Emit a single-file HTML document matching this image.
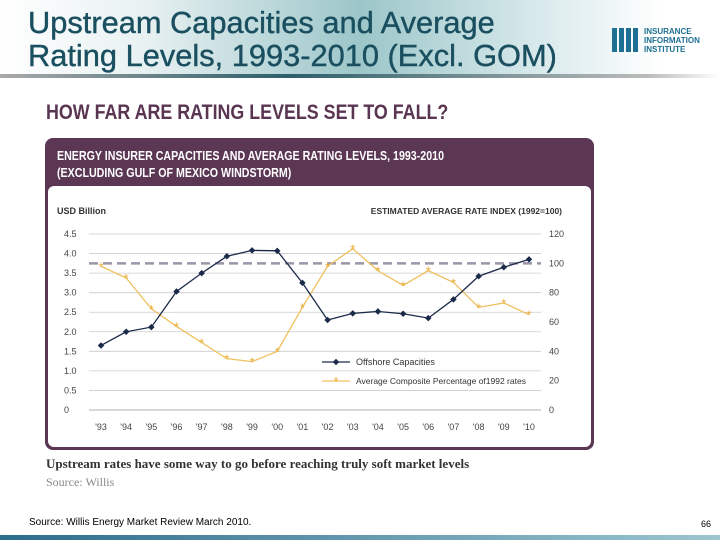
<!DOCTYPE html>
<html><head><meta charset="utf-8"><style>
body{margin:0;width:720px;height:540px;overflow:hidden;background:#fff;font-family:"Liberation Sans",sans-serif;position:relative}
.a{position:absolute}
</style></head><body>
<div class="a" style="left:0;top:0;width:720px;height:76px;background:linear-gradient(90deg,#fff 0%,#e8f1f2 20%,#9cc6c9 50%,#d9eaec 75%,#fff 92%)"></div>
<div class="a" style="left:0;top:74px;width:720px;height:4px;background:linear-gradient(90deg,#aaa,#2c5f6a 40%,#bbb 90%,#fff)"></div>
<div class="a" style="left:28px;top:6px;font-size:30.8px;line-height:33px;color:#1a4f60;-webkit-text-stroke:0.4px #1a4f60">Upstream Capacities and Average<br>Rating Levels, 1993-2010 (Excl. GOM)</div>
<div class="a" style="left:612px;top:28px;width:28px;height:24px;background:repeating-linear-gradient(90deg,#1d6f93 0 5px,transparent 5px 7px)"></div>
<div class="a" style="left:644px;top:27px;font-size:8px;line-height:9px;font-weight:bold;color:#1d6f93">INSURANCE<br>INFORMATION<br>INSTITUTE</div>
<div class="a" style="left:46px;top:101px;font-size:21px;font-weight:bold;color:#5a3552;transform:scaleX(0.85);transform-origin:left">HOW FAR ARE RATING LEVELS SET TO FALL?</div>
<div class="a" style="left:45px;top:138px;width:549px;height:312px;background:#5b3754;border-radius:8px"></div>
<div class="a" style="left:48px;top:186px;width:543px;height:261px;background:#fff;border-radius:6px"></div>
<div class="a" style="left:57px;top:147px;font-size:13px;line-height:17px;font-weight:bold;color:#fff;transform:scaleX(0.82);transform-origin:left">ENERGY INSURER CAPACITIES AND AVERAGE RATING LEVELS, 1993-2010<br>(EXCLUDING GULF OF MEXICO WINDSTORM)</div>
<svg class="a" style="left:0;top:0" width="720" height="540" id="chart"></svg>
<div class="a" style="left:46px;top:456px;font-family:'Liberation Serif',serif;font-weight:bold;font-size:13px;color:#333">Upstream rates have some way to go before reaching truly soft market levels</div>
<div class="a" style="left:46px;top:475px;font-family:'Liberation Serif',serif;font-size:12px;color:#888">Source: Willis</div>
<div class="a" style="left:29px;top:517px;font-size:10px;color:#000">Source: Willis Energy Market Review March 2010.</div>
<div class="a" style="left:701px;top:519px;font-size:9px;color:#000">66</div>
<div class="a" style="left:0;top:535px;width:720px;height:5px;background:linear-gradient(90deg,#2c6c8c,#9cc6d0)"></div>
<script>
const years=["'93","'94","'95","'96","'97","'98","'99","'00","'01","'02","'03","'04","'05","'06","'07","'08","'09","'10"];
const capacities=[1.65,2.0,2.12,3.03,3.5,3.93,4.08,4.07,3.25,2.3,2.47,2.52,2.46,2.35,2.83,3.42,3.65,3.85];
const rates=[98,90,69,57,46,35,33,40,70,98,110,95,85,95,87,70,73,65];
const leftTicks=["0","0.5","1.0","1.5","2.0","2.5","3.0","3.5","4.0","4.5"];
const rightTicks=[0,20,40,60,80,100,120];
const baseline=100;
const svg=document.getElementById('chart');const NS='http://www.w3.org/2000/svg';
const x0=89,x1=541,yB=410,yT=234;
const x=i=>101+i*(529-101)/(years.length-1);
const yL=v=>yB-(v/4.5)*(yB-yT);
const yR=v=>yB-(v/120)*(yB-yT);
function el(t,a,txt){const e=document.createElementNS(NS,t);for(const k in a)e.setAttribute(k,a[k]);if(txt!=null)e.textContent=txt;svg.appendChild(e);return e;}
let e;
e=el('text',{x:57,y:214,'font-size':9,'font-weight':'bold',fill:'#333'},'USD Billion');

e=el('text',{x:562,y:214,'font-size':8.5,'font-weight':'bold',fill:'#333','text-anchor':'end'},'ESTIMATED AVERAGE RATE INDEX (1992=100)');

leftTicks.forEach((t,i)=>{const v=parseFloat(t);const y=yL(v);
 e=el('line',{x1:x0,x2:x1,y1:y,y2:y,stroke:i==0?'#999':'#ccc','stroke-width':0.8});
 
 e=el('text',{x:64,y:y+3,'font-size':9,fill:'#444'},t);
 });
rightTicks.forEach(v=>{const y=yR(v);
 e=el('text',{x:549,y:y+3,'font-size':9,fill:'#444'},String(v));
 });
years.forEach((yr,i)=>{
 e=el('text',{x:x(i),y:430,'font-size':9,fill:'#444','text-anchor':'middle'},yr);
 });
e=el('line',{x1:x0,x2:x1,y1:yR(baseline),y2:yR(baseline),stroke:'#9a95a8','stroke-width':2.5,'stroke-dasharray':'9,5'});

e=el('polyline',{points:rates.map((v,i)=>x(i)+','+yR(v)).join(' '),fill:'none',stroke:'#f0c060','stroke-width':1.3});

rates.forEach((v,i)=>{e=el('text',{x:x(i),y:yR(v)+5,'font-size':13,fill:'#e8b040','text-anchor':'middle'},'*');
 });
e=el('polyline',{points:capacities.map((v,i)=>x(i)+','+yL(v)).join(' '),fill:'none',stroke:'#1c2a4a','stroke-width':1.3});

capacities.forEach((v,i)=>{e=el('rect',{x:x(i)-2.3,y:yL(v)-2.3,width:4.6,height:4.6,fill:'#1c2a4a',transform:`rotate(45 ${x(i)} ${yL(v)})`});
 });
e=el('line',{x1:322,x2:350,y1:362,y2:362,stroke:'#1c2a4a','stroke-width':1.3});

e=el('rect',{x:333.7,y:359.7,width:4.6,height:4.6,fill:'#1c2a4a',transform:'rotate(45 336 362)'});

e=el('text',{x:356,y:365,'font-size':9,fill:'#333'},'Offshore Capacities');

e=el('line',{x1:322,x2:350,y1:381,y2:381,stroke:'#f0c060','stroke-width':1.3});

e=el('text',{x:336,y:386,'font-size':13,fill:'#e8b040','text-anchor':'middle'},'*');

e=el('text',{x:356,y:384,'font-size':8.5,fill:'#333'},'Average Composite Percentage of1992 rates');

</script>
</body></html>
